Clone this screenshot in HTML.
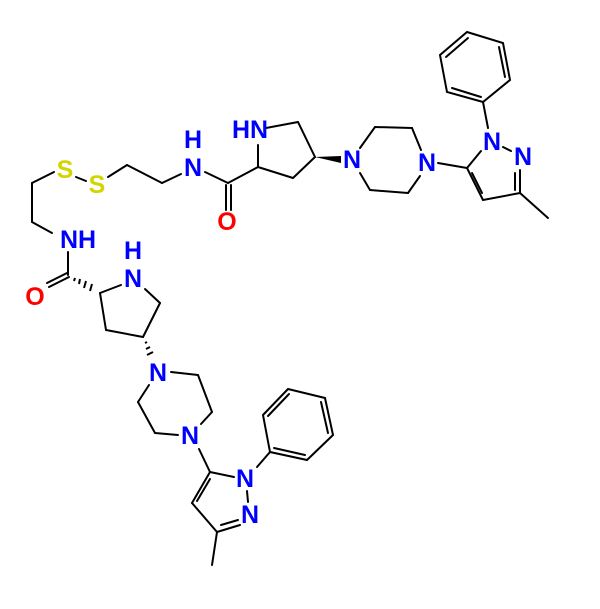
<!DOCTYPE html>
<html><head><meta charset="utf-8"><style>
html,body{margin:0;padding:0;background:#fff;}
svg{display:block;}
text{font-family:"Liberation Sans",sans-serif;font-weight:bold;font-size:25px;text-anchor:middle;dominant-baseline:central;}
.n{fill:#0000ff}.o{fill:#ff0000}.s{fill:#d4d400}
</style></head><body>
<svg width="600" height="609" viewBox="0 0 600 609">
<g stroke="#000" stroke-width="2" fill="none" stroke-linecap="round">
<polygon points="467,32 503,43 510,80 483,102 447,92 440,55"/>
<line x1="499" y1="47" x2="505" y2="77"/>
<line x1="481" y1="97" x2="452" y2="88"/>
<line x1="446" y1="57" x2="468" y2="38"/>
<line x1="483" y1="102" x2="488" y2="128"/>
<line x1="503" y1="147" x2="511" y2="151"/>
<line x1="520" y1="170" x2="520" y2="193"/>
<line x1="515" y1="173" x2="515" y2="190"/>
<line x1="520" y1="193" x2="483" y2="200"/>
<line x1="483" y1="200" x2="467" y2="168"/>
<line x1="482" y1="193" x2="472" y2="173"/>
<line x1="467" y1="168" x2="481" y2="151"/>
<line x1="520" y1="193" x2="548" y2="218"/>
<line x1="467" y1="168" x2="438" y2="163"/>
<line x1="421" y1="150" x2="412" y2="128"/>
<line x1="412" y1="128" x2="375" y2="127"/>
<line x1="375" y1="127" x2="360" y2="148"/>
<line x1="360" y1="173" x2="370" y2="190"/>
<line x1="370" y1="190" x2="408" y2="193"/>
<line x1="408" y1="193" x2="420" y2="176"/>
<line x1="266" y1="128" x2="298" y2="122"/>
<line x1="298" y1="122" x2="315" y2="157"/>
<line x1="315" y1="157" x2="293" y2="178"/>
<line x1="293" y1="178" x2="258" y2="167"/>
<line x1="258" y1="167" x2="258" y2="145"/>
<line x1="258" y1="167" x2="228" y2="183"/>
<line x1="226" y1="185" x2="226" y2="210"/>
<line x1="231" y1="185" x2="231" y2="210"/>
<line x1="228" y1="183" x2="205" y2="172"/>
<line x1="181" y1="174" x2="162" y2="183"/>
<line x1="162" y1="183" x2="127" y2="165"/>
<line x1="127" y1="165" x2="108" y2="177"/>
<line x1="76" y1="177" x2="86" y2="181"/>
<line x1="54" y1="172" x2="48" y2="175"/>
<line x1="48" y1="175" x2="32" y2="183"/>
<line x1="32" y1="183" x2="32" y2="222"/>
<line x1="32" y1="222" x2="52" y2="233"/>
<line x1="68" y1="252" x2="68" y2="275"/>
<line x1="67" y1="273" x2="47" y2="283"/>
<line x1="69" y1="277" x2="49" y2="287"/>
<line x1="121" y1="285" x2="100" y2="293"/>
<line x1="145" y1="289" x2="160" y2="303"/>
<line x1="160" y1="303" x2="143" y2="337"/>
<line x1="143" y1="337" x2="106" y2="330"/>
<line x1="106" y1="330" x2="100" y2="293"/>
<line x1="171" y1="372" x2="198" y2="375"/>
<line x1="198" y1="375" x2="212" y2="412"/>
<line x1="212" y1="412" x2="201" y2="424"/>
<line x1="178" y1="435" x2="155" y2="433"/>
<line x1="155" y1="433" x2="138" y2="402"/>
<line x1="138" y1="402" x2="149" y2="385"/>
<line x1="199" y1="449" x2="210" y2="472"/>
<line x1="210" y1="472" x2="234" y2="477"/>
<line x1="247" y1="491" x2="248" y2="502"/>
<line x1="240" y1="525" x2="217" y2="532"/>
<line x1="238" y1="520" x2="221" y2="525"/>
<line x1="217" y1="532" x2="192" y2="503"/>
<line x1="192" y1="503" x2="210" y2="472"/>
<line x1="197" y1="501" x2="210" y2="479"/>
<line x1="217" y1="532" x2="212" y2="565"/>
<line x1="257" y1="467" x2="270" y2="452"/>
<polygon points="270,452 263,415 288,389 325,398 333,435 307,460"/>
<line x1="268" y1="416" x2="289" y2="394"/>
<line x1="321" y1="402" x2="328" y2="433"/>
<line x1="305" y1="455" x2="274" y2="448"/>
</g>
<polygon points="315,157 341,156 341,163" fill="#000"/>
<g stroke="#000" stroke-width="2">
<line x1="75" y1="278" x2="74" y2="281"/>
<line x1="80" y1="279" x2="79" y2="284"/>
<line x1="86" y1="281" x2="84" y2="288"/>
<line x1="92" y1="284" x2="90" y2="291"/>
<line x1="145" y1="343" x2="147" y2="342"/>
<line x1="146" y1="349" x2="150" y2="347"/>
<line x1="147" y1="355" x2="153" y2="352"/>
</g>
<text x="492" y="142" class="n">N</text>
<text x="523" y="157" class="n">N</text>
<text x="427" y="163" class="n">N</text>
<text x="352" y="160" class="n">N</text>
<text x="250" y="130" class="n">HN</text>
<text x="193" y="140" class="n">H</text>
<text x="193" y="168" class="n">N</text>
<text x="227" y="222" class="o">O</text>
<text x="97" y="185" class="s">S</text>
<text x="65" y="170" class="s">S</text>
<text x="78" y="240" class="n">NH</text>
<text x="35" y="297" class="o">O</text>
<text x="133" y="251" class="n">H</text>
<text x="133" y="279" class="n">N</text>
<text x="158" y="373" class="n">N</text>
<text x="190" y="436" class="n">N</text>
<text x="245" y="479" class="n">N</text>
<text x="250" y="515" class="n">N</text>
</svg>
</body></html>
